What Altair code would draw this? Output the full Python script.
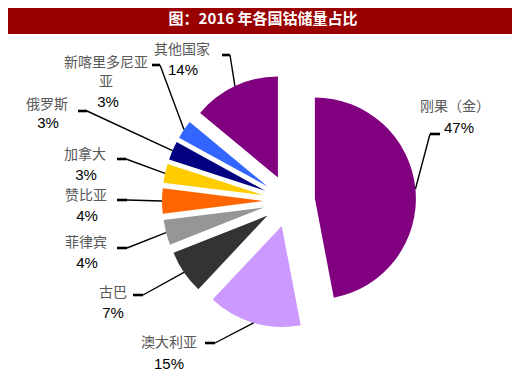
import altair as alt
import pandas as pd
import numpy as np

# ---- data ----
countries = ["刚果（金）", "澳大利亚", "古巴", "菲律宾", "赞比亚", "加拿大", "俄罗斯", "新喀里多尼亚", "其他国家"]
shares = [47, 15, 7, 4, 4, 3, 3, 3, 14]
colors = ["#800080", "#CC99FF", "#333333", "#969696", "#FF6600", "#FFCC00", "#000080", "#3366FF", "#800080"]
name_text = ["刚果（金）", "澳大利亚", "古巴", "菲律宾", "赞比亚", "加拿大", "俄罗斯", "新喀里多尼亚\n亚", "其他国家"]
pct_text = ["47%", "15%", "7%", "4%", "4%", "3%", "3%", "3%", "14%"]
TITLE = "图：2016 年各国钴储量占比"

# ---- layout (pixels in the view) ----
W, H = 504, 363
CX, CY = 281, 193
R = 101
EXPLODE = 26
name_pos = [(447, 99), (161, 335), (105, 285), (78, 235), (78, 188), (77, 147), (39, 97), (98, 55), (174, 42)]
pct_pos = [(451, 120), (161, 356), (105, 305), (79, 255), (79, 208), (78, 167), (40, 115), (100, 94), (175, 62)]
elbow = [(422, 126), (207, 335), (135, 287), (119, 240), (119, 192), (118, 151), (79, 103), (152, 57), (222, 47)]
tick_end = [432, 197, 125, 109, 109, 109, 70, 144, 214]

# ---- tables ----
df = pd.DataFrame({"country": countries, "share": shares, "order": range(len(countries))})
df["end"] = df["share"].cumsum()
df["start"] = df["end"] - df["share"]
ang = (df["start"] + df["end"]) / 2 / 100 * 2 * np.pi
df["cx"] = CX + EXPLODE * np.sin(ang)
df["cy"] = CY - EXPLODE * np.cos(ang)
df["ex"] = df["cx"] + R * np.sin(ang)
df["ey"] = df["cy"] - R * np.cos(ang)

lab = pd.DataFrame({
    "country": countries,
    "name": name_text,
    "pct": pct_text,
    "nx": [p[0] for p in name_pos], "ny": [p[1] for p in name_pos],
    "px": [p[0] for p in pct_pos], "py": [p[1] for p in pct_pos],
    "bx": [p[0] for p in elbow], "by": [p[1] for p in elbow],
    "tx": tick_end,
})

rows = []
for i, c in enumerate(countries):
    rows.append({"country": c, "seq": 0, "x": df.loc[i, "ex"], "y": df.loc[i, "ey"]})
    rows.append({"country": c, "seq": 1, "x": elbow[i][0], "y": elbow[i][1]})
lines = pd.DataFrame(rows)

color_scale = alt.Scale(domain=countries, range=colors)

slices = alt.Chart(df).mark_arc(radius=R, stroke=None).encode(
    theta=alt.Theta("start:Q", scale=alt.Scale(domain=[0, 100], range=[0, 2 * np.pi])),
    theta2="end:Q",
    x=alt.X("cx:Q", scale=None),
    y=alt.Y("cy:Q", scale=None),
    color=alt.Color("country:N", scale=color_scale, legend=None),
)

leader = alt.Chart(lines).mark_line(color="black", strokeWidth=1.4).encode(
    x=alt.X("x:Q", scale=None),
    y=alt.Y("y:Q", scale=None),
    detail="country:N",
    order="seq:Q",
)

ticks = alt.Chart(lab).mark_rule(color="black", strokeWidth=2.6).encode(
    x=alt.X("bx:Q", scale=None),
    x2="tx:Q",
    y=alt.Y("by:Q", scale=None),
)

names = alt.Chart(lab).mark_text(
    font="Noto Sans CJK SC", fontSize=14, color="#595959", align="center",
    baseline="middle", lineBreak="\n", lineHeight=19,
).encode(
    x=alt.X("nx:Q", scale=None), y=alt.Y("ny:Q", scale=None), text="name:N"
)

pcts = alt.Chart(lab).mark_text(
    font="Liberation Sans", fontSize=15, color="black", align="center", baseline="middle",
).encode(
    x=alt.X("px:Q", scale=None), y=alt.Y("py:Q", scale=None), text="pct:N"
)

title_df = pd.DataFrame({"t": [TITLE]})
bar = alt.Chart(title_df).mark_rect(color="#990000").encode(
    x=alt.value(0), x2=alt.value(W), y=alt.value(0), y2=alt.value(26)
)
title = alt.Chart(title_df).mark_text(
    font="Noto Sans CJK SC", fontSize=15, fontWeight="bold", color="white",
    align="center", baseline="middle",
).encode(x=alt.value(255), y=alt.value(11), text="t:N")

chart = alt.layer(bar, title, slices, leader, ticks, names, pcts).properties(
    width=W, height=H, padding=0, autosize=alt.AutoSizeParams(type="none"),
).configure_view(stroke=None)

chart.save("out.html", embed_options={"renderer": "svg", "actions": False})
